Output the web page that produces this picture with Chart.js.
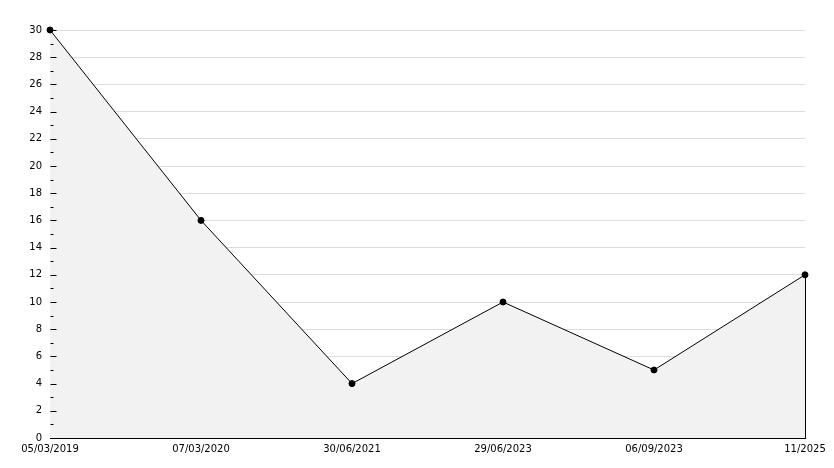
<!DOCTYPE html>
<html>
<head>
<meta charset="utf-8">
<script src="https://cdn.jsdelivr.net/npm/chart.js@4/dist/chart.umd.min.js"></script>
<style>
  html, body { margin: 0; padding: 0; background: #fff; }
  #wrap { width: 834px; height: 468px; }
</style>
</head>
<body>
<div id="wrap"><canvas id="line-chart" width="834" height="468"></canvas></div>
<script>
var dateLabels = ["05/03/2019", "07/03/2020", "30/06/2021", "29/06/2023", "06/09/2023", "11/2025"];
var seriesValues = [30, 16, 4, 10, 5, 12];
var yMin = 0;
var yMax = 30;

// small tick marks on the inside of the y axis, plus the closing edge of the area
var axisTicks = {
    id: 'axisTicks',
    afterDatasetsDraw: function (chart) {
        var ctx = chart.ctx;
        var y = chart.scales.y;
        var area = chart.chartArea;
        ctx.save();
        ctx.strokeStyle = '#000';
        ctx.lineWidth = 1;
        var ax = Math.round(area.left) + 0.5;
        for (var v = yMin; v <= yMax; v++) {
            var py = Math.round(y.getPixelForValue(v)) + 0.5;
            var len = (v % 2 === 0) ? 6 : 3;
            ctx.beginPath();
            ctx.moveTo(ax, py);
            ctx.lineTo(ax + len, py);
            ctx.stroke();
        }
        var pts = chart.getDatasetMeta(0).data;
        var last = pts[pts.length - 1];
        var px = Math.round(last.x) + 0.5;
        ctx.beginPath();
        ctx.moveTo(px, last.y);
        ctx.lineTo(px, area.bottom);
        ctx.stroke();
        ctx.restore();
    }
};

var lineCtx = document.getElementById("line-chart").getContext('2d');
var lineChart = new Chart(lineCtx, {
    type: 'line',
    data: {
        labels: dateLabels,
        datasets: [{
            data: seriesValues,
            borderColor: '#000',
            borderWidth: 1,
            backgroundColor: '#f2f2f2',
            fill: 'origin',
            tension: 0,
            clip: false,
            pointRadius: 3,
            pointBackgroundColor: '#000',
            pointBorderColor: '#000',
            pointBorderWidth: 1
        }]
    },
    options: {
        responsive: false,
        animation: false,
        layout: { padding: { top: 30, right: 29, left: 0, bottom: 0 } },
        plugins: {
            legend: { display: false },
            tooltip: { enabled: false }
        },
        scales: {
            x: {
                offset: false,
                grid: { display: false, drawTicks: false },
                border: { display: true, color: '#000', width: 1 },
                ticks: {
                    color: '#000',
                    font: { family: 'DejaVu Sans', size: 10 },
                    maxRotation: 0,
                    autoSkip: false,
                    padding: 5
                },
                afterFit: function (scale) { scale.height = 30; }
            },
            y: {
                min: yMin,
                max: yMax,
                grid: {
                    drawTicks: false,
                    color: function (c) {
                        return (c.tick && c.tick.value > 0) ? '#dddddd' : 'rgba(0,0,0,0)';
                    }
                },
                border: { display: true, color: '#000', width: 1 },
                ticks: {
                    stepSize: 2,
                    color: '#000',
                    font: { family: 'DejaVu Sans', size: 10 },
                    padding: 8
                },
                afterFit: function (scale) { scale.width = 50; }
            }
        }
    },
    plugins: [axisTicks]
});
</script>
</body>
</html>
